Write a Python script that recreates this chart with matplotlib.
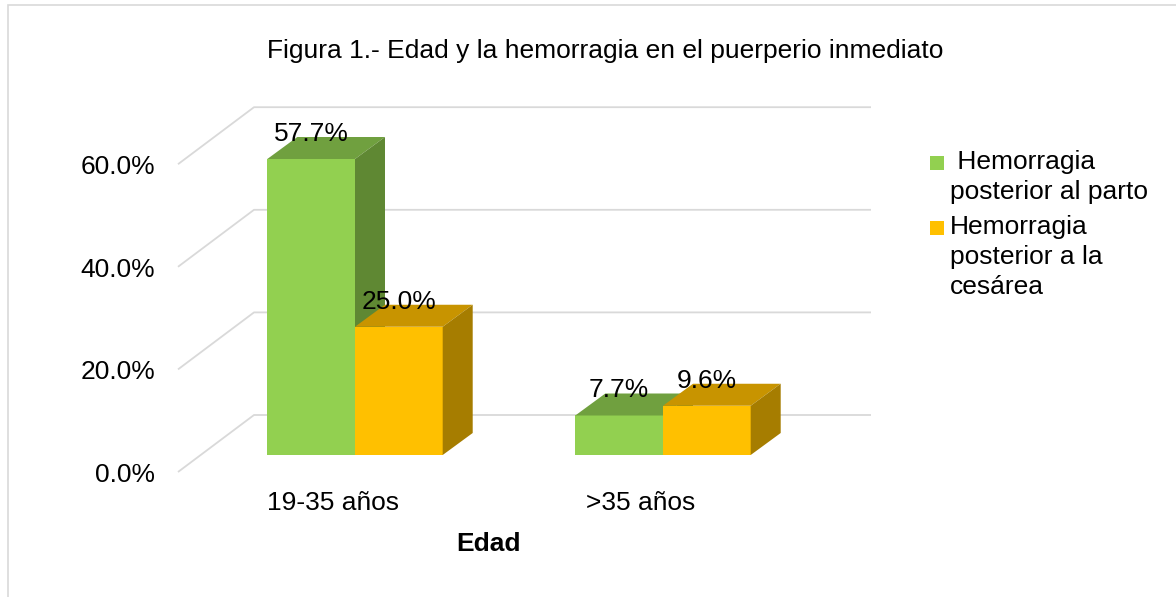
import matplotlib.pyplot as plt
from matplotlib.patches import Polygon, Rectangle

plt.rcParams['font.family'] = ['Liberation Sans', 'DejaVu Sans']

# data
categories = ['19-35 años', '>35 años']
series = [' Hemorragia\nposterior al parto', 'Hemorragia\nposterior a la\ncesárea']
parto = [57.7, 7.7]
cesarea = [25.0, 9.6]
yticks = [0, 20, 40, 60]

front_cols = ['#92D050', '#FFC000']
top_cols = ['#70A03F', '#C89400']
side_cols = ['#5F8833', '#A67D00']
grid_col = '#D9D9D9'
FS = 19.0

W, H = 1176, 597
fig = plt.figure(figsize=(W / 100, H / 100), dpi=100)
ax = fig.add_axes([0, 0, 1, 1])
ax.axis('off')

# layout: x in category units (308 px each), y in percent (5.13 px each)
PX_X, X0 = 308.0, 355.0
PX_Y, Y0 = 5.13, 142.0
ax.set_xlim(-X0 / PX_X, (W - X0) / PX_X)
ax.set_ylim(-Y0 / PX_Y, (H - Y0) / PX_Y)

def px(dx):
    return dx / PX_X

def py(dy):
    return dy / PX_Y

bw = px(87.7)
ddx, ddy = px(30), py(22)

# back wall gridlines with the slanted floor edge
back_l, back_r, front_x = px(254 - X0), px(871 - X0), px(178 - X0)
back_dy, front_dy = py(40), py(-17)
for v in yticks:
    ax.plot([front_x, back_l, back_r], [v + front_dy, v + back_dy, v + back_dy],
            color=grid_col, lw=1.3, zorder=1, solid_capstyle='butt')
    ax.text(px(155 - X0), v + front_dy + py(-3), f'{v:.1f}%', ha='right', va='center',
            fontsize=FS)

def bar3d(x0, h, k):
    x1 = x0 + bw
    ax.add_patch(Rectangle((x0, 0), bw, h, facecolor=front_cols[k], edgecolor='none', zorder=3))
    ax.add_patch(Polygon([(x0, h), (x1, h), (x1 + ddx, h + ddy), (x0 + ddx, h + ddy)],
                         closed=True, facecolor=top_cols[k], edgecolor='none', zorder=3))
    ax.add_patch(Polygon([(x1, 0), (x1 + ddx, ddy), (x1 + ddx, h + ddy), (x1, h)],
                         closed=True, facecolor=side_cols[k], edgecolor='none', zorder=3))
    ax.text(x0 + bw / 2, h + py(25), f'{h:.1f}%', ha='center', va='center',
            fontsize=FS, zorder=5)

for i, cat in enumerate(categories):
    bar3d(i - bw, parto[i], 0)
    bar3d(i, cesarea[i], 1)
    ax.text(i + px(-22), py(-48), cat, ha='center', va='center', fontsize=FS)

ax.text(px(488 - X0), py(-89), 'Edad', ha='center', va='center', fontsize=FS,
        fontweight='bold')

fig.text(605 / W, 1 - 51 / H, 'Figura 1.- Edad y la hemorragia en el puerperio inmediato',
         ha='center', va='center', fontsize=FS)

# legend
leg_y = [177, 257]
sq_y = [163, 228]
for k, lab in enumerate(series):
    fig.patches.append(Rectangle((930 / W, 1 - (sq_y[k] + 7) / H), 14 / W, 14 / H,
                                 transform=fig.transFigure, facecolor=front_cols[k],
                                 edgecolor='none'))
    fig.text(950 / W, 1 - leg_y[k] / H, lab, ha='left', va='center', fontsize=FS,
             linespacing=1.33)

# chart border
fig.patches.append(Rectangle((8 / W, -0.1), 1.2, 1 - 5 / H + 0.1, transform=fig.transFigure,
                             facecolor='none', edgecolor=grid_col, lw=1.2))

fig.savefig('out.png', dpi=100)
